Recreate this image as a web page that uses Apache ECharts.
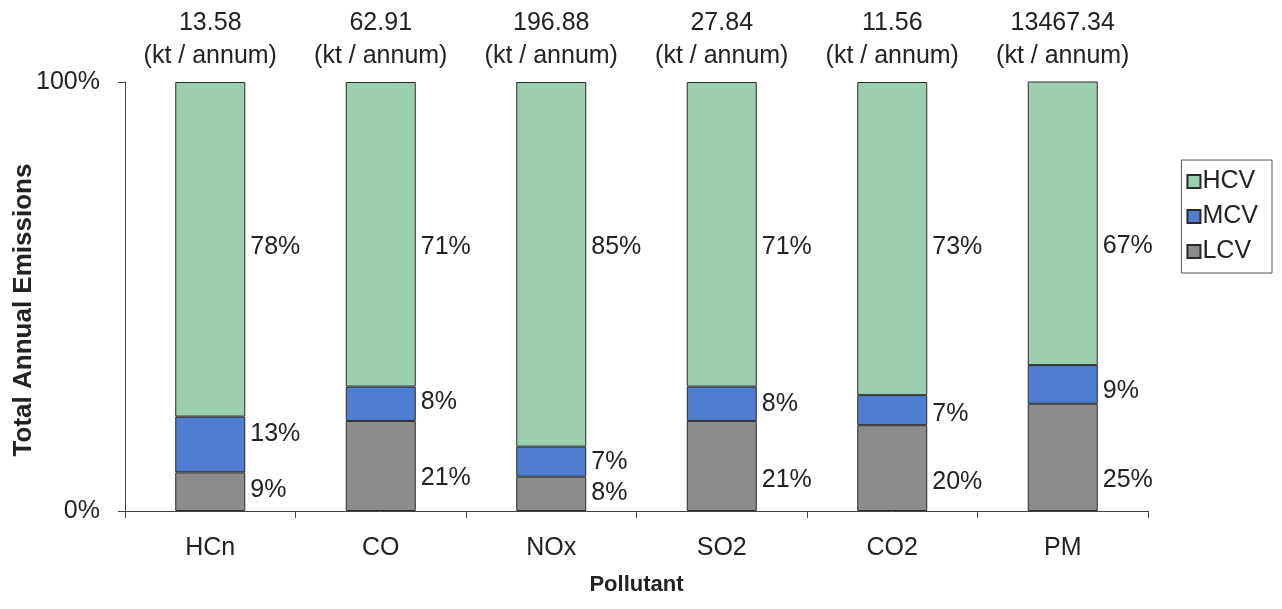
<!DOCTYPE html>
<html>
<head>
<meta charset="utf-8">
<script src="https://cdn.jsdelivr.net/npm/echarts@6/dist/echarts.min.js"></script>
<style>
  html, body { margin: 0; padding: 0; background: #fff; }
  #chart { width: 1282px; height: 609px; }
</style>
</head>
<body>
<div id="chart"></div>
<script>
// Pollutants and their total annual emissions (kt / annum)
const pollutants = ['HCn', 'CO', 'NOx', 'SO2', 'CO2', 'PM'];
const totals = ['13.58', '62.91', '196.88', '27.84', '11.56', '13467.34'];

// Share of each pollutant by vehicle class (%)
const lcv = [9, 21, 8, 21, 20, 25];
const mcv = [13, 8, 7, 8, 7, 9];
const hcv = [78, 71, 85, 71, 73, 67];

const yTicks = [0, 100];
const yTitle = 'Total Annual Emissions';

// Vertical nudges (px) for the value labels beside each column
const lcvLabelNudge = [-2, 12, -1, 14, 14, 23];
const mcvLabelNudge = [-10, -2, 0, 0, 4, 7];

const FONT = '"Liberation Sans", Arial, sans-serif';
const TEXT = '#222';
const EDGE = '#2a2a2a';

const chart = echarts.init(document.getElementById('chart'), null, { renderer: 'canvas' });

function withNudge(values, nudges) {
  return values.map((v, i) => ({ value: v, label: { offset: [0, nudges ? nudges[i] : 0] } }));
}

function barSeries(name, data, color, label) {
  return {
    name: name,
    type: 'bar',
    stack: 'share',
    barWidth: 70,
    clip: true,
    data: data,
    itemStyle: { color: color, borderColor: EDGE, borderWidth: 1 },
    label: Object.assign({
      show: true,
      formatter: '{c}%',
      color: TEXT,
      fontFamily: FONT,
      fontSize: 25
    }, label),
    emphasis: { disabled: true }
  };
}

chart.setOption({
  animation: false,
  textStyle: { fontFamily: FONT, color: TEXT },
  grid: { left: 125, right: 134, top: 82, bottom: 98, containLabel: false, outerBoundsMode: 'none' },
  // Rotated value-axis title
  graphic: [{
    type: 'text',
    x: 24,
    y: 310,
    rotation: Math.PI / 2,
    silent: true,
    style: {
      text: yTitle,
      fontFamily: FONT,
      fontSize: 26,
      fontWeight: 'bold',
      fill: TEXT,
      align: 'center',
      verticalAlign: 'middle'
    }
  }],
  legend: {
    orient: 'vertical',
    right: 10,
    top: 160,
    padding: [9, 14, 9, 5],
    itemGap: 10,
    itemWidth: 13,
    itemHeight: 13,
    icon: 'rect',
    borderColor: '#555',
    borderWidth: 1,
    data: ['HCV', 'MCV', 'LCV'],
    textStyle: { fontFamily: FONT, fontSize: 25, color: TEXT, padding: [0, 0, 0, -3] }
  },
  xAxis: [
    {
      type: 'category',
      data: pollutants,
      position: 'bottom',
      name: 'Pollutant',
      nameLocation: 'middle',
      nameGap: 63,
      nameTextStyle: { fontFamily: FONT, fontSize: 22, fontWeight: 'bold', color: TEXT },
      axisLine: { lineStyle: { color: '#444', width: 1 } },
      axisTick: { show: true, length: 7, lineStyle: { color: '#444' } },
      axisLabel: { fontFamily: FONT, fontSize: 25, color: TEXT, margin: 25, interval: 0 }
    },
    {
      type: 'category',
      data: totals,
      position: 'top',
      axisLine: { show: false },
      axisTick: { show: false },
      axisLabel: {
        fontFamily: FONT,
        fontSize: 25,
        color: TEXT,
        margin: 9,
        lineHeight: 33,
        interval: 0,
        hideOverlap: false,
        formatter: v => v + '\n(kt / annum)'
      }
    }
  ],
  yAxis: {
    type: 'value',
    min: yTicks[0],
    max: yTicks[1],
    interval: 100,
    splitLine: { show: false },
    axisLine: { show: true, lineStyle: { color: '#444', width: 1 } },
    axisTick: { show: true, length: 7, lineStyle: { color: '#444' } },
    axisLabel: { fontFamily: FONT, fontSize: 25, color: TEXT, margin: 25, formatter: '{value}%' }
  },
  series: [
    barSeries('LCV', withNudge(lcv, lcvLabelNudge), '#8c8c8c', { position: 'right', distance: 5 }),
    barSeries('MCV', withNudge(mcv, mcvLabelNudge), '#4f7ed0', { position: 'right', distance: 5 }),
    barSeries('HCV', hcv, '#9ccfb0', { position: ['100%', 165], offset: [5, 0], align: 'left', verticalAlign: 'middle' })
  ]
});
</script>
</body>
</html>
